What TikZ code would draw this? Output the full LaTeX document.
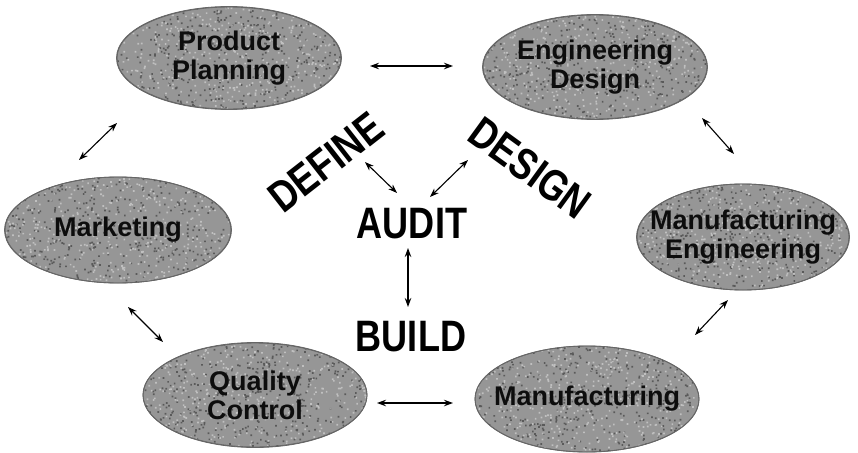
\documentclass[tikz,border=0pt]{standalone}
\usepackage{fontspec}
\setmainfont{Liberation Sans}
\usetikzlibrary{shapes.geometric,arrows.meta}
\definecolor{blobgray}{RGB}{150,150,150}
\newcommand{\narrowword}[1]{\scalebox{0.82}[1]{#1}}
\begin{document}
\begin{tikzpicture}[x=1pt,y=-1pt,
  blob/.style={ellipse, draw=black!60, line width=0.8pt, fill=blobgray, inner sep=0pt},
  lbl/.style={font=\fontsize{27}{29}\selectfont\bfseries, align=center, text=black!95, inner sep=0pt},
  big/.style={font=\fontsize{44}{48}\selectfont\bfseries, inner sep=0pt},
  arr/.style={{Stealth[length=9pt,width=6.5pt]}-{Stealth[length=9pt,width=6.5pt]}, line width=1.1pt},
  dk/.style={fill=black, fill opacity=0.4},
  lt/.style={fill=white, fill opacity=0.4}]
\useasboundingbox (0,0) rectangle (858,452);

% ellipses
\node[blob, minimum width=225pt, minimum height=103pt] (pp) at (229,58) {};
\node[blob, minimum width=225pt, minimum height=105pt] (ed) at (595,67) {};
\node[blob, minimum width=227pt, minimum height=106pt] (mk) at (118,230) {};
\node[blob, minimum width=213pt, minimum height=106pt] (me) at (743,237) {};
\node[blob, minimum width=224pt, minimum height=105pt] (qc) at (255,395) {};
\node[blob, minimum width=224pt, minimum height=106pt] (mf) at (587,399) {};

% speckle texture
\pgfmathsetseed{17}
\foreach \n/\rx/\ry in {pp/112/51, ed/112/52, mk/113/53, me/106/53, qc/112/52, mf/112/53}{
  \begin{scope}
    \path[clip] (\n.center) ellipse [x radius=\rx, y radius=\ry];
    \fill[dk] \foreach \i in {1,...,450}{ ([shift={(rand*\rx,rand*\ry)}]\n.center) rectangle ++(1.7,1.7) };
    \fill[lt] \foreach \i in {1,...,450}{ ([shift={(rand*\rx,rand*\ry)}]\n.center) rectangle ++(1.7,1.7) };
  \end{scope}
  \draw[black!60, line width=0.9pt] (\n.center) ellipse [x radius=\rx, y radius=\ry];
}

% ellipse labels
\node[lbl] (ppT) at (pp) {Product\\Planning};
\node[lbl] (edT) at (ed) {Engineering\\Design};
\node[lbl] (mkT) at (mk) {Marketing};
\node[lbl] (meT) at (me) {Manufacturing\\Engineering};
\node[lbl] (qcT) at (qc) {Quality\\Control};
\node[lbl] (mfT) at (mf) {Manufacturing};

% central words
\node[big, rotate=38] (define) at (326,162) {\narrowword{DEFINE}};
\node[big, rotate=-36] (design) at (530,168) {\narrowword{DESIGN}};
\node[big] (audit) at (412,224) {\narrowword{AUDIT}};
\node[big] (build) at (411,337) {\narrowword{BUILD}};

% arrow end points
\coordinate (a1) at (370,66);  \coordinate (b1) at (453,66);
\coordinate (a2) at (117,123); \coordinate (b2) at (79,160);
\coordinate (a3) at (702,118); \coordinate (b3) at (734,154);
\coordinate (a4) at (128,307); \coordinate (b4) at (163,342);
\coordinate (a5) at (377,403); \coordinate (b5) at (453,403);
\coordinate (a6) at (728,300); \coordinate (b6) at (695,335);
\coordinate (a7) at (365,162); \coordinate (b7) at (397,193);
\coordinate (a8) at (468,160); \coordinate (b8) at (430,197);
\coordinate (a9) at (408,248); \coordinate (b9) at (408,307);

\foreach \k in {1,...,9}{ \draw[arr] (a\k) -- (b\k); }
\end{tikzpicture}
\end{document}
